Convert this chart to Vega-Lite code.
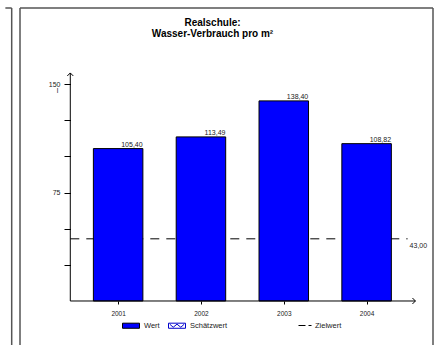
{
  "$schema": "https://vega.github.io/schema/vega-lite/v6.json",
  "width": 423,
  "height": 337,
  "autosize": {"type": "none"},
  "padding": {"left": 15, "top": 8, "right": 6, "bottom": 0},
  "config": {
    "view": {"stroke": null},
    "font": "Liberation Sans",
    "locale": {"number": {"decimal": ",", "thousands": ".", "grouping": [3], "currency": ["", " €"]}},
    "axis": {"grid": false, "domain": false, "labelFont": "Liberation Sans", "labelColor": "#222", "tickColor": "#000", "tickWidth": 1},
    "legend": {"labelFont": "Liberation Sans", "labelColor": "#222"}
  },
  "title": {
    "text": ["Realschule:", "Wasser-Verbrauch pro m²"],
    "font": "Liberation Sans",
    "fontSize": 10,
    "fontWeight": "bold",
    "color": "#000",
    "anchor": "middle",
    "frame": "group",
    "dx": -14,
    "offset": -32,
    "lineHeight": 11
  },
  "data": {
    "values": [
      {"jahr": 2001, "wert": 105.40, "typ": "Wert"},
      {"jahr": 2002, "wert": 113.49, "typ": "Wert"},
      {"jahr": 2003, "wert": 138.40, "typ": "Wert"},
      {"jahr": 2004, "wert": 108.82, "typ": "Wert"}
    ]
  },
  "layer": [
    {
      "data": {"values": [{}]},
      "mark": {"type": "rule", "stroke": "#555", "strokeWidth": 1.5},
      "encoding": {
        "x": {"datum": 1999.8153, "type": "quantitative", "scale": {"domain": [1999.8153, 2004.8016], "nice": false, "zero": false}},
        "y": {"datum": -30.43, "type": "quantitative", "scale": {"domain": [-30.43, 202.63], "nice": false, "zero": false}},
        "y2": {"datum": 202.63}
      }
    },
    {
      "data": {"values": [{}]},
      "mark": {"type": "rule", "stroke": "#555", "strokeWidth": 1.5},
      "encoding": {
        "x": {"datum": 2004.8016, "type": "quantitative"},
        "y": {"datum": -30.43, "type": "quantitative"},
        "y2": {"datum": 202.63}
      }
    },
    {
      "data": {"values": [{}]},
      "mark": {"type": "rule", "stroke": "#555", "strokeWidth": 1.5},
      "encoding": {
        "x": {"datum": 1999.8153, "type": "quantitative"},
        "x2": {"datum": 2004.8016},
        "y": {"datum": 202.63, "type": "quantitative"}
      }
    },
    {
      "data": {"values": [{}]},
      "mark": {"type": "rule", "stroke": "#555", "strokeWidth": 1.5},
      "encoding": {
        "x": {"datum": 1999.715, "type": "quantitative"},
        "y": {"datum": -30.43, "type": "quantitative"},
        "y2": {"datum": 202.63}
      }
    },
    {
      "data": {"values": [{}]},
      "mark": {"type": "rule", "stroke": "#555", "strokeWidth": 1.5},
      "encoding": {
        "x": {"datum": 1999.6385, "type": "quantitative"},
        "x2": {"datum": 1999.715},
        "y": {"datum": 202.63, "type": "quantitative"}
      }
    },
    {
      "data": {"values": [{"ziel": 43, "art": "Zielwert"}]},
      "mark": {"type": "rule", "strokeWidth": 1, "strokeDash": [9, 7]},
      "encoding": {
        "x": {"datum": 2000.4224, "type": "quantitative"},
        "x2": {"datum": 2004.495},
        "y": {"field": "ziel", "type": "quantitative"},
        "stroke": {
          "field": "art", "type": "nominal",
          "scale": {"range": ["#000000"]},
          "legend": {
            "orient": "none", "legendX": 283, "legendY": 310.5, "title": null,
            "symbolType": "stroke", "symbolSize": 169, "symbolDash": [7, 3], "symbolStrokeWidth": 1,
            "labelFontSize": 7.5, "labelOffset": 3, "padding": 0
          }
        }
      }
    },
    {
      "data": {"values": [{"ziel": 43}]},
      "mark": {"type": "text", "align": "left", "baseline": "top", "dx": 2, "dy": 3, "fontSize": 7, "color": "#222"},
      "encoding": {
        "x": {"datum": 2004.495, "type": "quantitative"},
        "y": {"field": "ziel", "type": "quantitative"},
        "text": {"field": "ziel", "type": "quantitative", "format": ".2f"}
      }
    },
    {
      "mark": {"type": "bar", "size": 49.5, "stroke": "#000", "strokeWidth": 1},
      "encoding": {
        "x": {
          "field": "jahr", "type": "quantitative",
          "axis": {"orient": "bottom", "offset": -44, "values": [2001, 2002, 2003, 2004], "format": "d", "tickSize": 3, "labelPadding": 6.5, "labelFontSize": 6.5, "title": null}
        },
        "y": {
          "field": "wert", "type": "quantitative",
          "axis": {
            "orient": "left", "offset": -55.5, "values": [25, 50, 75, 100, 125, 150], "tickSize": 6.5, "labelPadding": 4, "labelFontSize": 7,
            "labelExpr": "datum.value == 75 || datum.value == 150 ? datum.label : ''",
            "title": "l", "titleAngle": 0, "titleX": -13.5, "titleY": 84, "titleAlign": "center", "titleBaseline": "alphabetic",
            "titleFontSize": 7, "titleFontWeight": "normal", "titleColor": "#222"
          }
        },
        "y2": {"datum": 0},
        "fill": {
          "field": "typ", "type": "nominal",
          "scale": {"domain": ["Wert", "Schätzwert"], "range": ["#0000ff", "#ffffff"]},
          "legend": {
            "orient": "none", "legendX": 107, "legendY": 308.5, "direction": "horizontal", "title": null,
            "symbolType": "M-1,-0.3H1V0.3H-1Z", "symbolSize": 289, "symbolStrokeColor": "#000", "symbolStrokeWidth": 1,
            "labelFontSize": 7.5, "labelOffset": 4, "columnPadding": 6, "padding": 0,
            "encode": {"symbols": {"update": {"shape": {"signal": "datum.value === 'Wert' ? 'M-1,-0.3H1V0.3H-1Z' : 'M-1,-0.3H1V0.3H-1Z M-0.85,-0.18L-0.45,0.18L0,-0.18L0.45,0.18L0.85,-0.18'"}, "stroke": {"signal": "datum.value === 'Wert' ? '#000' : '#0000cc'"}}}}
          }
        }
      }
    },
    {
      "mark": {"type": "text", "align": "right", "baseline": "alphabetic", "dx": 24.5, "dy": -2, "fontSize": 7, "color": "#222"},
      "encoding": {
        "x": {"field": "jahr", "type": "quantitative"},
        "y": {"field": "wert", "type": "quantitative"},
        "text": {"field": "wert", "type": "quantitative", "format": ".2f"}
      }
    },
    {
      "data": {"values": [{}]},
      "mark": {"type": "rule", "stroke": "#000", "strokeWidth": 1},
      "encoding": {
        "x": {"datum": 2000.4224, "type": "quantitative"},
        "y": {"datum": 0, "type": "quantitative"},
        "y2": {"datum": 157.7}
      }
    },
    {
      "data": {"values": [{}]},
      "mark": {"type": "rule", "stroke": "#000", "strokeWidth": 1},
      "encoding": {
        "x": {"datum": 2000.4224, "type": "quantitative"},
        "x2": {"datum": 2004.5894},
        "y": {"datum": 0, "type": "quantitative"}
      }
    },
    {
      "data": {"values": [{}]},
      "mark": {"type": "point", "shape": "M-1,1L0,0L1,1", "size": 36, "filled": false, "stroke": "#000", "strokeWidth": 1, "opacity": 1},
      "encoding": {
        "x": {"datum": 2000.4224, "type": "quantitative"},
        "y": {"datum": 157.7, "type": "quantitative"}
      }
    },
    {
      "data": {"values": [{}]},
      "mark": {"type": "point", "shape": "M-1,-1L0,0L-1,1", "size": 36, "filled": false, "stroke": "#000", "strokeWidth": 1, "opacity": 1},
      "encoding": {
        "x": {"datum": 2004.5894, "type": "quantitative"},
        "y": {"datum": 0, "type": "quantitative"}
      }
    }
  ]
}
